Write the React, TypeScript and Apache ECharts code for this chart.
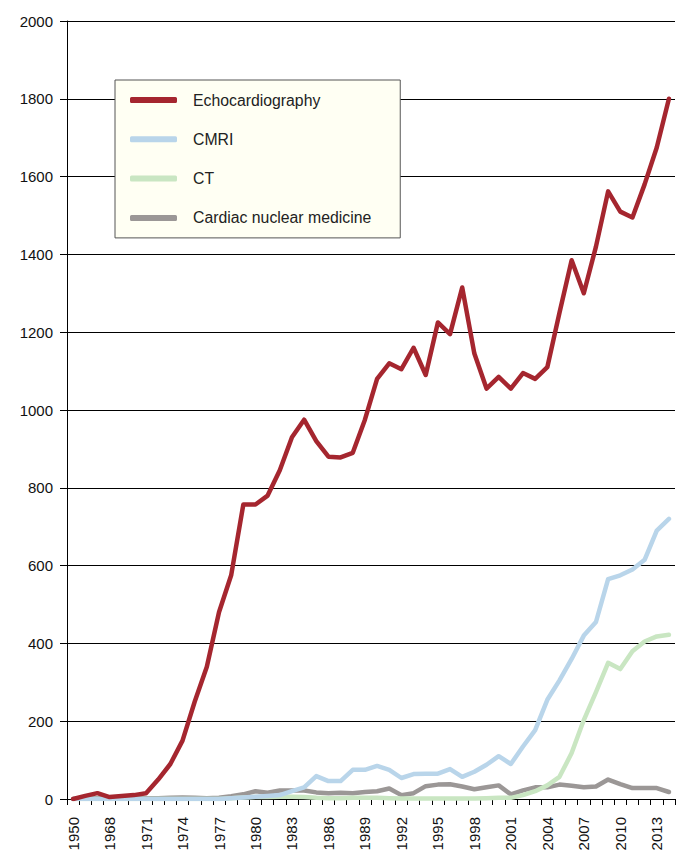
import React, { useEffect, useRef } from "react";
import * as echarts from "echarts";

const years = [
  "1950", "1966", "1967", "1968", "1969", "1970", "1971", "1972", "1973", "1974",
  "1975", "1976", "1977", "1978", "1979", "1980", "1981", "1982", "1983", "1984",
  "1985", "1986", "1987", "1988", "1989", "1990", "1991", "1992", "1993", "1994",
  "1995", "1996", "1997", "1998", "1999", "2000", "2001", "2002", "2003", "2004",
  "2005", "2006", "2007", "2008", "2009", "2010", "2011", "2012", "2013", "2014",
];

const echo = [
  0, 8, 15, 5, 8, 10, 15, 50, 90, 150,
  250, 340, 480, 575, 757, 757, 780, 845, 930, 975,
  920, 880, 878, 890, 975, 1080, 1120, 1105, 1160, 1090,
  1225, 1195, 1315, 1145, 1055, 1085, 1055, 1095, 1080, 1110,
  1250, 1385, 1300, 1420, 1562, 1510, 1495, 1580, 1675, 1800,
];

const cmri = [
  0, 0, 0, 0, 0, 0, 0, 0, 0, 0,
  0, 0, 0, 2, 4, 6, 8, 10, 20, 30,
  59, 46, 46, 75, 75, 85, 75, 54, 64, 65,
  65, 77, 57, 70, 88, 110, 90, 135, 177, 255,
  305, 360, 420, 455, 565, 575, 590, 615, 690, 720,
];

const ct = [
  0, 0, 0, 0, 0, 0, 0, 0, 0, 0,
  0, 0, 0, 2, 4, 5, 5, 6, 6, 5,
  3, 2, 2, 3, 3, 3, 2, 1, 1, 1,
  1, 1, 1, 1, 2, 3, 3, 10, 20, 35,
  57, 118, 203, 275, 350, 334, 380, 405, 418, 422,
];

const nuclear = [
  0, 2, 2, 2, 2, 2, 2, 2, 3, 4,
  3, 2, 3, 7, 12, 20, 16, 22, 22, 22,
  17, 15, 16, 15, 18, 20, 27, 10, 15, 33,
  37, 38, 32, 25, 30, 35, 12, 22, 30, 30,
  37, 34, 30, 32, 50, 38, 28, 28, 28, 18,
];

const seriesNames = ["Echocardiography", "CMRI", "CT", "Cardiac nuclear medicine"];
const seriesColors = ["#a5262f", "#b9d5ea", "#c9e6c2", "#9b9796"];
const yTicks = [0, 200, 400, 600, 800, 1000, 1200, 1400, 1600, 1800, 2000];

export default function App() {
  const ref = useRef<HTMLDivElement>(null);
  useEffect(() => {
    if (!ref.current) return;
    const chart = echarts.init(ref.current, undefined, { renderer: "svg" });
    const data = [echo, cmri, ct, nuclear];
    const font = "Liberation Sans, Arial, sans-serif";
    chart.setOption({
      animation: false,
      backgroundColor: "#ffffff",
      grid: {
        left: 67,
        right: 9,
        top: 21,
        bottom: 51,
        containLabel: false,
        outerBoundsMode: "none",
      },
      legend: {
        orient: "vertical",
        left: 115,
        top: 80,
        backgroundColor: "#fffff3",
        borderColor: "#555555",
        borderWidth: 1,
        borderRadius: 0,
        padding: [12, 29, 12, 15],
        itemGap: 23.3,
        itemWidth: 47,
        itemHeight: 6,
        icon: "roundRect",
        data: seriesNames,
        textStyle: {
          fontFamily: font,
          fontSize: 15.8,
          lineHeight: 16,
          color: "#222222",
          padding: [0, 0, 0, 11],
        },
      },
      xAxis: {
        type: "category",
        data: years,
        boundaryGap: true,
        axisLine: { show: true, lineStyle: { color: "#000000", width: 1 } },
        axisTick: { show: true, interval: 0, length: 6, lineStyle: { color: "#000000" } },
        axisLabel: {
          interval: 2,
          rotate: 90,
          fontFamily: font,
          fontSize: 15,
          color: "#111111",
          margin: 18,
        },
        splitLine: { show: false },
      },
      yAxis: {
        type: "value",
        min: yTicks[0],
        max: yTicks[yTicks.length - 1],
        interval: 200,
        axisLine: { show: true, lineStyle: { color: "#000000", width: 1 } },
        axisTick: { show: true, inside: false, length: 7, lineStyle: { color: "#000000" } },
        axisLabel: {
          fontFamily: font,
          fontSize: 15,
          color: "#111111",
          margin: 14,
          formatter: (v: number) => String(v),
        },
        splitLine: { show: true, lineStyle: { color: "#000000", width: 1 } },
      },
      series: seriesNames.map((name, i) => ({
        name,
        type: "line",
        data: data[i],
        symbol: "none",
        smooth: false,
        z: 10 - i,
        lineStyle: { color: seriesColors[i], width: 4.5, cap: "round", join: "round" },
        itemStyle: { color: seriesColors[i] },
      })).reverse(),
    });
    return () => chart.dispose();
  }, []);
  return (
    <div
      ref={ref}
      style={{ position: "fixed", left: 0, top: 0, width: 684, height: 850 }}
    />
  );
}
